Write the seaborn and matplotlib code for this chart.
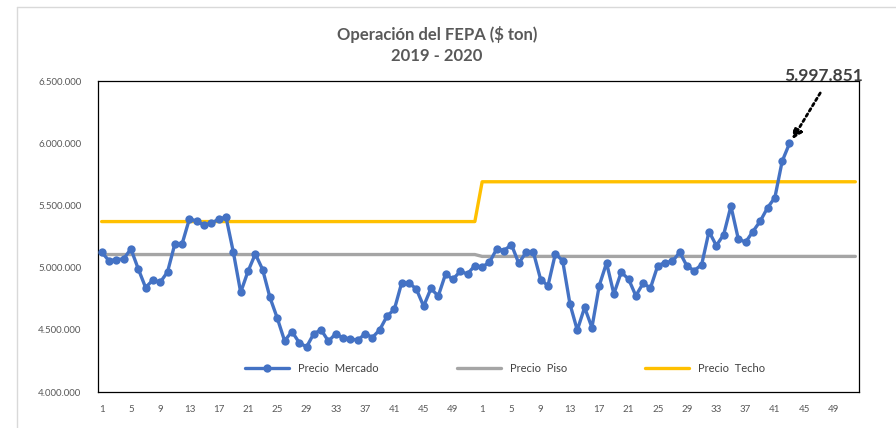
import numpy as np
import pandas as pd
import seaborn as sns
import matplotlib.pyplot as plt
from matplotlib.lines import Line2D
from matplotlib.ticker import FuncFormatter

# datos ($ por tonelada, semanas 2019 y 2020)
semanas = list(range(1, 53))
mercado_2019 = [5125000, 5055000, 5065000, 5070000, 5150000, 4990000, 4840000, 4900000, 4882000, 4965000,
                5190000, 5192000, 5393000, 5373000, 5340000, 5357000, 5390000, 5405000, 5123000, 4801000,
                4970000, 5110000, 4984000, 4760000, 4594000, 4411000, 4486000, 4397000, 4362000, 4470000,
                4499000, 4408000, 4470000, 4433000, 4430000, 4414000, 4470000, 4438000, 4500000, 4610000,
                4664000, 4877000, 4877000, 4828000, 4690000, 4832000, 4771000, 4949000, 4906000, 4970000,
                4949000, 5016000]
mercado_2020 = [5005000, 5043000, 5151000, 5137000, 5185000, 5035000, 5123000, 5123000, 4903000, 4855000,
                5110000, 5056000, 4707000, 4497000, 4680000, 4518000, 4855000, 5038000, 4788000, 4962000,
                4909000, 4774000, 4874000, 4836000, 5016000, 5040000, 5050000, 5123000, 5011000, 4976000,
                5024000, 5290000, 5177000, 5264000, 5494000, 5231000, 5204000, 5290000, 5373000, 5481000,
                5562000, 5855000, 5997851]
piso = [5105000, 5090000]   # 2019, 2020
techo = [5370000, 5690000]  # 2019, 2020

n = len(semanas)
df = pd.DataFrame({
    'pos': np.arange(1, 2 * n + 1),
    'semana': semanas * 2,
    'Precio  Mercado': mercado_2019 + mercado_2020 + [np.nan] * (n - len(mercado_2020)),
    'Precio  Piso': [piso[0]] * n + [piso[1]] * n,
    'Precio  Techo': [techo[0]] * n + [techo[1]] * n,
})

sns.set_theme(style='white')
plt.rcParams['font.family'] = ['Lato', 'DejaVu Sans']

fig = plt.figure(figsize=(8.96, 4.28), dpi=100)
ax = fig.add_axes([98 / 896, 1 - 392 / 428, 761 / 896, 311 / 428])

sns.lineplot(data=df, x='pos', y='Precio  Mercado', color='#4472C4', lw=2.4, marker='o', markersize=6,
             markeredgewidth=0, label='Precio  Mercado', ax=ax, zorder=4)
sns.lineplot(data=df, x='pos', y='Precio  Piso', color='#A5A5A5', lw=2.4, label='Precio  Piso', ax=ax, zorder=2)
sns.lineplot(data=df, x='pos', y='Precio  Techo', color='#FFC000', lw=2.4, label='Precio  Techo', ax=ax, zorder=3)

ax.set_xlim(0.5, 2 * n + 0.5)
ax.set_ylim(4000000, 6500000)
ax.set_yticks(np.arange(4000000, 6500001, 500000))
ax.yaxis.set_major_formatter(FuncFormatter(lambda v, p: f'{v:,.0f}'.replace(',', '.')))
ticks = list(range(1, 2 * n + 1, 4))
ax.set_xticks(ticks)
ax.set_xticklabels([df['semana'].iloc[t - 1] for t in ticks])
ax.set_xlabel('')
ax.set_ylabel('')
ax.tick_params(axis='both', length=0, labelsize=7, labelcolor='#595959')
ax.tick_params(axis='y', pad=12)
ax.tick_params(axis='x', pad=9)
for s in ax.spines.values():
    s.set_visible(True)
    s.set_color('black')
    s.set_linewidth(0.9)

# titulo
fig.text(437 / 896, 1 - 45 / 428, 'Operación del FEPA ($ ton)\n2019 - 2020', ha='center', va='center',
         fontsize=12, fontweight='bold', color='#595959', linespacing=1.45)

# etiqueta del ultimo valor con flecha punteada
ultimo = mercado_2020[-1]
ultimo_pos = n + len(mercado_2020)
ax.annotate('', xy=(ultimo_pos + 0.2, ultimo + 15000), xytext=(ultimo_pos + 4.4, ultimo + 425000),
            arrowprops=dict(arrowstyle='-|>', color='black', lw=2, linestyle=(0, (1, 1.2)), mutation_scale=14),
            annotation_clip=False)
ax.text(ultimo_pos + 4.6, ultimo + 540000, f'{ultimo:,.0f}'.replace(',', '.'), ha='center', va='center',
        fontsize=12.5, fontweight='bold', color='#404040', clip_on=False)

ax.legend(ncol=3, loc='center', bbox_to_anchor=(0.535, 0.077), frameon=False, handlelength=4,
          columnspacing=7, fontsize=8, labelcolor='#404040')

# borde exterior del area del grafico
fig.add_artist(Line2D([17 / 896, 17 / 896], [0, 1 - 7 / 428], color='#D9D9D9', lw=1))
fig.add_artist(Line2D([17 / 896, 1], [1 - 7 / 428, 1 - 7 / 428], color='#D9D9D9', lw=1))

fig.savefig('out.png', dpi=100)
